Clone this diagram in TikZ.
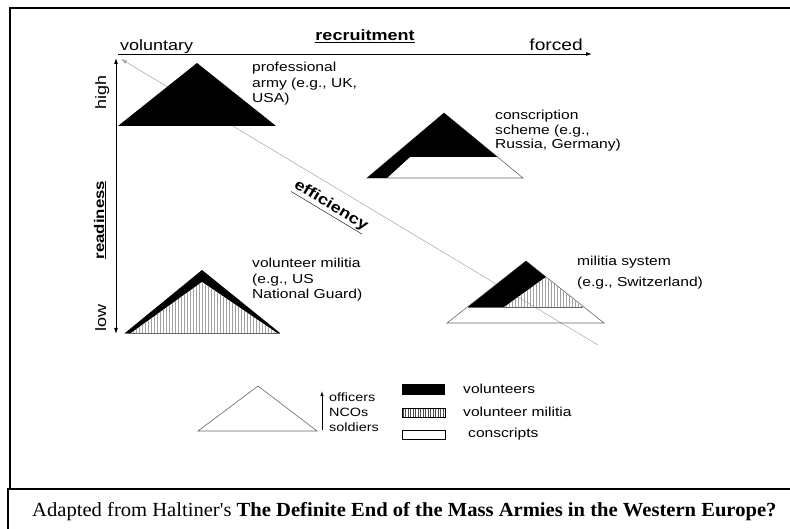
\documentclass[tikz,border=0pt]{standalone}
\usepackage{fontspec}
\setmainfont{Liberation Sans}[FakeStretch=1.2]
\newfontfamily\capfont{Liberation Serif}[FakeStretch=1.03]
\usetikzlibrary{arrows.meta}
\tikzset{
  lbl/.style={anchor=north west, align=left, inner sep=0pt, font=\fontsize{13}{15.5}\selectfont},
  axlbl/.style={inner sep=0pt, font=\fontsize{15}{17}\selectfont},
  legtxt/.style={anchor=west, inner sep=0pt, font=\fontsize{13}{15}\selectfont},
  frame/.style={line width=2pt, black},
  axis/.style={line width=0.9pt, black, -{Latex[length=6pt,width=4pt]}},
  hatch/.style={gray!75, line width=0.5pt},
  outl/.style={gray!80!black, line width=0.6pt},
}
\begin{document}
\begin{tikzpicture}[x=1pt,y=-1pt]
\useasboundingbox (0,0) rectangle (790,529);
% frames
\draw[frame] (795,8) -- (10,8) -- (10,489);
\draw[frame] (795,489) -- (8,489) -- (8,535);

% axes
\coordinate (hs) at (118,54);
\coordinate (he) at (592,54);
\draw[axis] (hs) -- (he);
\coordinate (vm) at (116,200);
\coordinate (vt) at (116,58);
\coordinate (vb) at (116,334);
\draw[axis] (vm) -- (vt);
\draw[axis] (vm) -- (vb);
\coordinate (es) at (598,345);
\coordinate (ee) at (121,59);
\draw[gray!70, line width=0.5pt, -{Latex[length=6pt,width=4pt]}] (es) -- (ee);

% axis labels
\node[axlbl, anchor=base west] (vol) at (120,51) {voluntary};
\node[axlbl, anchor=base] (rec) at (365,41) {\textbf{\underline{recruitment}}};
\node[axlbl, anchor=base east, font=\fontsize{16}{18}\selectfont] (forc) at (583,51) {forced};
\node[axlbl, rotate=90, anchor=base] (high) at (106,92) {high};
\node[axlbl, rotate=90, anchor=base, font=\fontsize{14}{16}\selectfont] (ready) at (104,220) {\textbf{\underline{readiness}}};
\node[axlbl, rotate=90, anchor=base] (low) at (106,318) {low};
\node[axlbl, rotate=-31, anchor=base] (eff) at (329,209) {\textbf{\underline{efficiency}}};

% professional army
\fill (197,63) -- (118,126) -- (276,126) -- cycle;
\node[lbl] (pa) at (252,62) {professional\\army (e.g., UK,\\USA)};

% conscription scheme
\draw[outl] (444,113) -- (367,178) -- (523,178) -- cycle;
\fill (444,113) -- (367,178) -- (387,178) -- (410,157) -- (497.5,157) -- cycle;
\node[lbl, font=\fontsize{13}{14.5}\selectfont] (cs) at (495,110) {conscription\\scheme (e.g.,\\Russia, Germany)};

% volunteer militia
\fill (202,270) -- (125,333) -- (280,333) -- cycle;
\fill[white] (202,282) -- (131,333) -- (277,333) -- cycle;
\begin{scope}
\clip (202,282) -- (131,333) -- (277,333) -- cycle;
\foreach \x in {130,133,...,280} \draw[hatch] (\x,270) -- (\x,340);
\end{scope}
\draw[outl] (125,333) -- (280,333);
\node[lbl] (vml) at (252,258) {volunteer militia\\(e.g., US\\National Guard)};

% militia system
\draw[outl] (526,261) -- (447,323) -- (604,323) -- cycle;
\draw[outl] (468,307) -- (583,307);
\fill (468,307) -- (526,261) -- (545.8,277) -- (504,307) -- cycle;
\begin{scope}
\clip (504,307) -- (545.8,277) -- (583,307) -- cycle;
\foreach \x in {503,506,...,585} \draw[hatch] (\x,270) -- (\x,310);
\end{scope}
\node[lbl, font=\fontsize{13}{21}\selectfont] (ms) at (577,256) {militia system\\(e.g., Switzerland)};

% legend
\draw[outl] (258,386) -- (198,431) -- (317,431) -- cycle;
\coordinate (la) at (322,430);
\coordinate (lb) at (322,391);
\draw[line width=0.8pt, -{Latex[length=5pt,width=3.5pt]}] (la) -- (lb);
\node[legtxt, font=\fontsize{12}{14}\selectfont] (off) at (329,397) {officers};
\node[legtxt, font=\fontsize{12}{14}\selectfont] (nco) at (329,412) {NCOs};
\node[legtxt, font=\fontsize{12}{14}\selectfont] (sol) at (329,427) {soldiers};
\fill (402,384) rectangle (445,395);
\begin{scope}
\clip (402,408) rectangle (445,417);
\foreach \x in {403,405.5,...,446} \draw[gray!60!black, line width=0.5pt] (\x,405) -- (\x,420);
\end{scope}
\draw[line width=0.6pt] (402,408) rectangle (445,417);
\draw[line width=0.8pt] (402,430) rectangle (445,439);
\node[legtxt] (lv) at (463,389) {volunteers};
\node[legtxt] (lvm) at (463,412) {volunteer militia};
\node[legtxt] (lc) at (468,434) {conscripts};

% caption
\node[anchor=base west, inner sep=0pt, font=\capfont\fontsize{20}{22}\selectfont] (cap) at (32,516)
  {Adapted from Haltiner's \textbf{The Definite End of the Mass Armies in the Western Europe?}};
\end{tikzpicture}
\end{document}
